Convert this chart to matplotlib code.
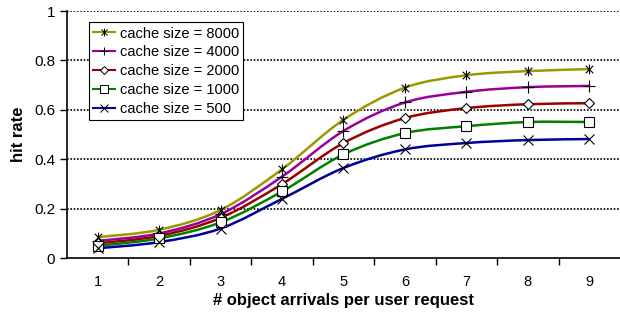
import numpy as np
import matplotlib
matplotlib.use("Agg")
import matplotlib.pyplot as plt
from matplotlib.path import Path
from matplotlib.patches import PathPatch
from matplotlib.lines import Line2D

plt.rcParams['font.family'] = ['Liberation Sans', 'DejaVu Sans']

arrivals = [1, 2, 3, 4, 5, 6, 7, 8, 9]
hit_8000 = [0.085, 0.115, 0.195, 0.36, 0.56, 0.69, 0.74, 0.757, 0.765]
hit_4000 = [0.07, 0.10, 0.178, 0.33, 0.515, 0.63, 0.673, 0.692, 0.697]
hit_2000 = [0.06, 0.09, 0.163, 0.30, 0.466, 0.567, 0.607, 0.623, 0.627]
hit_1000 = [0.05, 0.08, 0.145, 0.27, 0.42, 0.506, 0.534, 0.551, 0.551]
hit_500 = [0.04, 0.065, 0.12, 0.24, 0.365, 0.44, 0.466, 0.478, 0.482]
labels = ['cache size = 8000', 'cache size = 4000', 'cache size = 2000',
          'cache size = 1000', 'cache size = 500']
y_ticks = [0, 0.2, 0.4, 0.6, 0.8, 1]

# asterisk like excel: x plus vertical bar
star = Path([(-1, -1), (1, 1), (-1, 1), (1, -1), (0, -1.3), (0, 1.3)],
            [Path.MOVETO, Path.LINETO, Path.MOVETO, Path.LINETO, Path.MOVETO, Path.LINETO])

series = [hit_8000, hit_4000, hit_2000, hit_1000, hit_500]
colors = ['#999900', '#990099', '#990000', '#008000', '#000099']
markers = [star, '+', 'D', 's', 'x']
msizes = [7, 8, 5, 6.5, 7]


def smooth_path(x, y):
    # cubic bezier segments through the points (excel style smoothing)
    p = np.column_stack([x, y]).astype(float)
    ext = np.vstack([p[0], p, p[-1]])
    verts = [p[0]]
    codes = [Path.MOVETO]
    for i in range(len(p) - 1):
        p0, p1, p2, p3 = ext[i], ext[i + 1], ext[i + 2], ext[i + 3]
        c1 = p1 + (p2 - p0) / 6
        c2 = p2 - (p3 - p1) / 6
        verts += [c1, c2, p2]
        codes += [Path.CURVE4] * 3
    return Path(verts, codes)


fig = plt.figure(figsize=(6.2, 3.16), dpi=100)
ax = fig.add_axes([0.108, 0.183, 0.892, 0.782])

handles = []
for ys, c, m, ms, lab in zip(series, colors, markers, msizes, labels):
    ax.add_patch(PathPatch(smooth_path(arrivals, ys), fill=False, edgecolor=c, lw=1.8, zorder=3))
    ax.plot(arrivals, ys, linestyle='none', marker=m, ms=ms, mec='black', mfc='white',
            mew=0.8, zorder=4)
    handles.append(Line2D([], [], color=c, lw=1.5, marker=m, ms=ms * 0.8, mec='black',
                          mfc='white', mew=0.7, label=lab))

ax.set_xlim(0.5, 9.5)
ax.set_ylim(0, 1)
ax.set_yticks(y_ticks)
ax.set_yticklabels(['0', '0.2', '0.4', '0.6', '0.8', '1'])
ax.set_xticks(arrivals)
ax.set_xticklabels([str(a) for a in arrivals])
ax.set_xticks(np.arange(1.5, 9.5, 1), minor=True)
ax.tick_params(axis='x', which='major', length=0, pad=12, labelsize=10.5)
ax.tick_params(axis='x', which='minor', length=5, direction='out', width=1)
ax.tick_params(axis='y', length=5, direction='out', labelsize=11, width=1)
for y in y_ticks[1:]:
    ax.axhline(y, color='black', lw=1.2, ls=(0, (1, 1)), zorder=1)
ax.spines['top'].set_visible(False)
ax.spines['right'].set_visible(False)
ax.spines['left'].set_linewidth(1.2)
ax.spines['bottom'].set_linewidth(1.2)

ax.set_xlabel('# object arrivals per user request', fontsize=12, fontweight='bold', labelpad=3)
ax.set_ylabel('hit rate', fontsize=12, fontweight='bold', labelpad=6)

leg = ax.legend(handles=handles, loc='upper left', bbox_to_anchor=(0.04, 0.955),
                fontsize=10.5, handlelength=1.5, handletextpad=0.3, labelspacing=0.33,
                borderpad=0.3, borderaxespad=0, frameon=True, fancybox=False, framealpha=1)
leg.get_frame().set_edgecolor('black')
leg.get_frame().set_linewidth(0.8)

fig.savefig('out.png', dpi=100)
